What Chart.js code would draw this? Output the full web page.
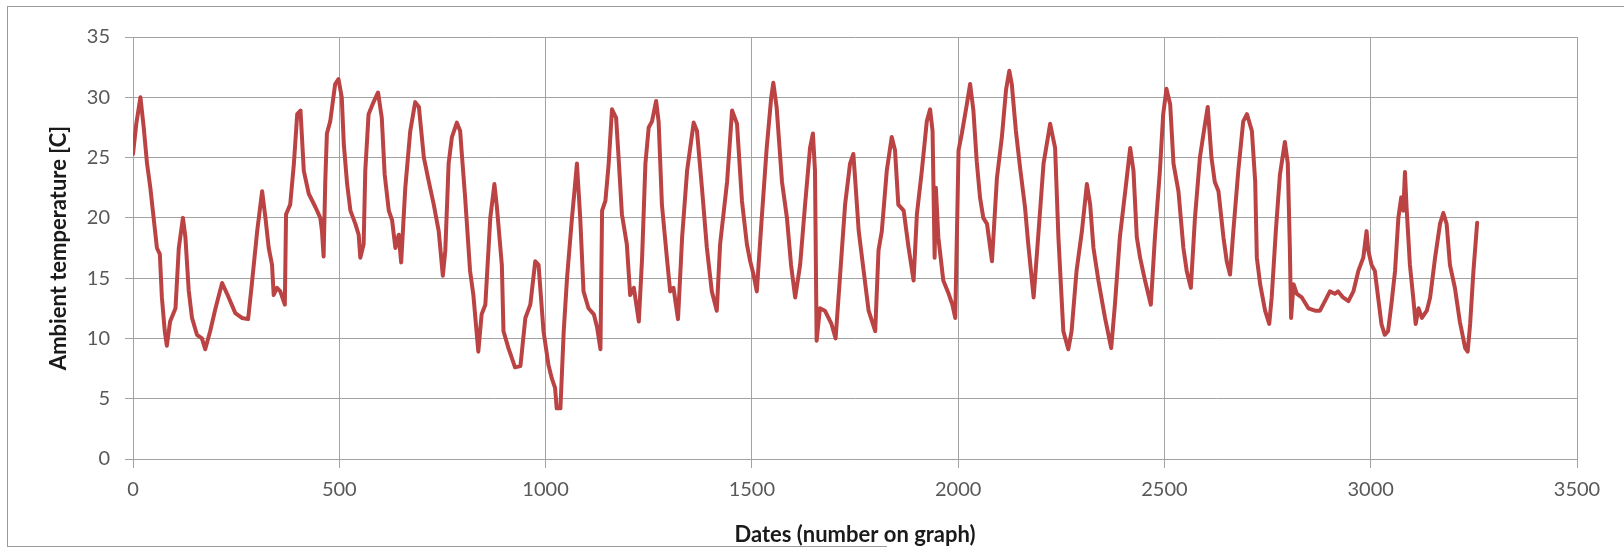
<!DOCTYPE html>
<html>
<head>
<meta charset="utf-8">
<script src="https://cdn.jsdelivr.net/npm/chart.js@4/dist/chart.umd.min.js"></script>
<style>
  html, body { margin: 0; padding: 0; background: #ffffff; }
  #wrap { position: relative; width: 1624px; height: 551px; overflow: hidden; }
  #c { position: absolute; left: 0; top: 0; }
  .fr { position: absolute; background: #9a9a9a; }
</style>
</head>
<body>
<div id="wrap">
  <canvas id="c" width="1624" height="551"></canvas>
  <div class="fr" style="left:7px; top:6px; width:1617px; height:1px;"></div>
  <div class="fr" style="left:7px; top:6px; width:1px; height:541px;"></div>
  <div class="fr" style="left:7px; top:546px; width:880px; height:1px;"></div>
</div>
<script>
// ---- data ----
const dates = [
  0, 8, 18, 26, 34, 42, 50, 58, 65, 70, 77, 82, 90, 103, 111, 121, 127, 135, 143, 155,
  167, 175, 187, 200, 216, 228, 248, 264, 279, 288, 301, 313, 321, 329, 337, 341, 349, 357, 368, 371,
  381, 390, 398, 406, 414, 426, 442, 454, 458, 462, 466, 470, 478, 490, 498, 506, 511, 519, 527, 539,
  547, 551, 559, 563, 571, 583, 594, 603, 610, 620, 628, 636, 644, 650, 660, 672, 684, 693, 705, 717,
  729, 741, 751, 757, 765, 773, 785, 793, 797, 805, 817, 825, 837, 845, 854, 866, 876, 882, 894, 898,
  910, 926, 939, 951, 963, 975, 983, 995, 1007, 1015, 1023, 1027, 1036, 1044, 1052, 1064, 1070, 1076, 1084, 1092,
  1104, 1117, 1125, 1133, 1137, 1145, 1153, 1161, 1171, 1177, 1185, 1197, 1205, 1214, 1226, 1234, 1242, 1250, 1258, 1268,
  1274, 1282, 1294, 1302, 1310, 1321, 1331, 1343, 1359, 1367, 1379, 1391, 1403, 1415, 1423, 1440, 1452, 1464, 1476, 1488,
  1496, 1504, 1512, 1524, 1536, 1547, 1552, 1560, 1573, 1585, 1595, 1605, 1617, 1629, 1641, 1648, 1653, 1657, 1665, 1677,
  1693, 1703, 1714, 1726, 1738, 1746, 1750, 1759, 1771, 1783, 1799, 1807, 1815, 1827, 1839, 1847, 1855, 1868, 1880, 1892,
  1900, 1912, 1924, 1932, 1938, 1943, 1946, 1952, 1964, 1977, 1986, 1993, 2001, 2009, 2021, 2029, 2037, 2045, 2053, 2061,
  2070, 2082, 2094, 2106, 2116, 2124, 2130, 2140, 2150, 2162, 2170, 2183, 2195, 2207, 2223, 2235, 2243, 2255, 2267, 2275,
  2287, 2300, 2312, 2320, 2328, 2340, 2356, 2371, 2380, 2392, 2405, 2417, 2425, 2433, 2441, 2453, 2467, 2477, 2489, 2497,
  2505, 2514, 2522, 2534, 2546, 2554, 2564, 2574, 2586, 2597, 2605, 2614, 2622, 2631, 2643, 2651, 2659, 2667, 2679, 2691,
  2700, 2712, 2720, 2724, 2732, 2744, 2754, 2760, 2770, 2780, 2792, 2799, 2804, 2807, 2813, 2821, 2833, 2849, 2865, 2877,
  2889, 2901, 2913, 2921, 2933, 2946, 2958, 2970, 2982, 2990, 2994, 3002, 3010, 3018, 3026, 3034, 3042, 3050, 3059, 3067,
  3074, 3079, 3083, 3087, 3095, 3103, 3109, 3116, 3124, 3136, 3144, 3156, 3168, 3176, 3184, 3192, 3204, 3216, 3229, 3235,
  3241, 3249, 3254, 3258
];
const temps = [
  25.3, 27.8, 30.0, 27.5, 24.5, 22.5, 20.0, 17.5, 17.0, 13.4, 10.6, 9.4, 11.4, 12.5, 17.5, 20.0, 18.4, 14.0, 11.7, 10.3,
  10.0, 9.1, 10.6, 12.5, 14.6, 13.7, 12.1, 11.7, 11.6, 14.5, 18.9, 22.2, 20.0, 17.5, 16.1, 13.6, 14.2, 13.9, 12.8, 20.3,
  21.1, 24.5, 28.6, 28.9, 23.9, 22.0, 20.9, 20.0, 18.9, 16.8, 23.0, 27.0, 28.0, 31.1, 31.5, 30.0, 26.1, 22.8, 20.6, 19.5,
  18.6, 16.7, 17.8, 23.9, 28.6, 29.6, 30.4, 28.3, 23.6, 20.6, 19.8, 17.5, 18.6, 16.3, 22.5, 27.2, 29.6, 29.2, 25.0, 23.0,
  21.1, 18.9, 15.2, 17.3, 24.5, 26.7, 27.9, 27.2, 25.3, 21.7, 15.6, 13.6, 8.9, 12.0, 12.8, 20.0, 22.8, 20.9, 16.1, 10.6,
  9.2, 7.6, 7.7, 11.7, 12.8, 16.4, 16.1, 10.6, 7.8, 6.7, 5.9, 4.2, 4.2, 10.6, 15.0, 20.0, 22.2, 24.5, 20.0, 13.9,
  12.5, 12.0, 10.9, 9.1, 20.6, 21.4, 24.5, 29.0, 28.3, 25.0, 20.3, 17.8, 13.6, 14.2, 11.4, 16.7, 24.5, 27.5, 28.0, 29.7,
  28.0, 21.1, 16.7, 13.9, 14.2, 11.6, 18.4, 23.9, 27.9, 27.2, 22.5, 17.5, 13.9, 12.3, 17.8, 23.0, 28.9, 27.8, 21.4, 17.8,
  16.4, 15.3, 13.9, 20.0, 25.8, 30.0, 31.2, 29.2, 23.0, 20.0, 16.1, 13.4, 16.1, 21.1, 25.8, 27.0, 23.9, 9.8, 12.5, 12.3,
  11.2, 10.0, 15.3, 21.1, 24.5, 25.3, 23.4, 18.9, 15.6, 12.3, 10.6, 17.3, 18.9, 23.9, 26.7, 25.6, 21.1, 20.6, 17.5, 14.8,
  20.3, 23.9, 28.0, 29.0, 27.2, 16.7, 22.5, 18.4, 14.8, 13.7, 12.8, 11.7, 25.6, 27.0, 29.4, 31.1, 28.9, 24.7, 21.7, 20.0,
  19.5, 16.4, 23.3, 26.7, 30.6, 32.2, 31.1, 27.2, 24.2, 20.9, 17.8, 13.4, 18.9, 24.5, 27.8, 25.8, 18.4, 10.6, 9.1, 10.6,
  15.6, 18.9, 22.8, 21.1, 17.5, 14.8, 11.7, 9.2, 12.8, 18.4, 22.2, 25.8, 23.9, 18.4, 16.7, 14.8, 12.8, 18.4, 23.9, 28.6,
  30.7, 29.4, 24.5, 22.2, 17.5, 15.6, 14.2, 20.0, 25.0, 27.5, 29.2, 25.0, 23.0, 22.2, 18.4, 16.4, 15.3, 18.9, 23.9, 28.0,
  28.6, 27.2, 23.0, 16.7, 14.5, 12.3, 11.2, 13.4, 18.9, 23.6, 26.3, 24.5, 17.5, 11.7, 14.5, 13.7, 13.4, 12.5, 12.3, 12.3,
  13.1, 13.9, 13.7, 13.9, 13.4, 13.1, 13.9, 15.6, 16.7, 18.9, 17.3, 16.1, 15.6, 13.4, 11.2, 10.3, 10.6, 12.8, 15.6, 20.0,
  21.7, 20.6, 23.8, 20.8, 16.1, 13.4, 11.2, 12.5, 11.7, 12.3, 13.4, 16.7, 19.5, 20.4, 19.5, 16.1, 14.2, 11.4, 9.2, 8.9,
  11.2, 15.6, 17.8, 19.6
];
const xTicks = [0, 500, 1000, 1500, 2000, 2500, 3000, 3500];
const yTicks = [0, 5, 10, 15, 20, 25, 30, 35];
const xTitle = 'Dates (number on graph)';
const yTitle = 'Ambient temperature [C]';

const gridColor = '#a3a3a3';
const tickColor = '#595959';
const FONT = 'Lato, "Open Sans", sans-serif';

new Chart(document.getElementById('c'), {
  type: 'line',
  data: {
    datasets: [{
      data: dates.map((d, i) => ({ x: d, y: temps[i] })),
      borderColor: '#bb4343',
      borderWidth: 4,
      pointRadius: 0,
      tension: 0,
      borderJoinStyle: 'round',
      borderCapStyle: 'round',
      fill: false
    }]
  },
  options: {
    responsive: false,
    animation: false,
    layout: { padding: { left: 0, top: 37, right: 47, bottom: 0 } },
    plugins: { legend: { display: false }, tooltip: { enabled: false } },
    scales: {
      x: {
        type: 'linear',
        min: xTicks[0], max: xTicks[xTicks.length - 1],
        afterBuildTicks: s => { s.ticks = xTicks.map(v => ({ value: v })); },
        afterFit: s => { s.height = 92; },
        grid: { color: gridColor, lineWidth: 1, tickLength: 9, drawTicks: true },
        border: { color: gridColor, width: 1 },
        ticks: { color: tickColor, font: { family: FONT, size: 20 }, padding: 10, maxRotation: 0,
                 callback: v => String(v) },
        title: { display: true, text: xTitle, color: '#1a1a1a',
                 font: { family: FONT, size: 22, weight: 'bold' }, padding: { top: 0, bottom: 3 } }
      },
      y: {
        min: yTicks[0], max: yTicks[yTicks.length - 1],
        afterBuildTicks: s => { s.ticks = yTicks.map(v => ({ value: v })); },
        afterFit: s => { s.width = 133; },
        grid: { color: gridColor, lineWidth: 1, tickLength: 8, drawTicks: true },
        border: { color: gridColor, width: 1 },
        ticks: { color: tickColor, font: { family: FONT, size: 20 }, padding: 15,
                 callback: v => String(v) },
        title: { display: true, text: yTitle, color: '#1a1a1a',
                 font: { family: FONT, size: 22, weight: 'bold' }, padding: { top: 46, bottom: 0 } }
      }
    }
  }
});
</script>
</body>
</html>
